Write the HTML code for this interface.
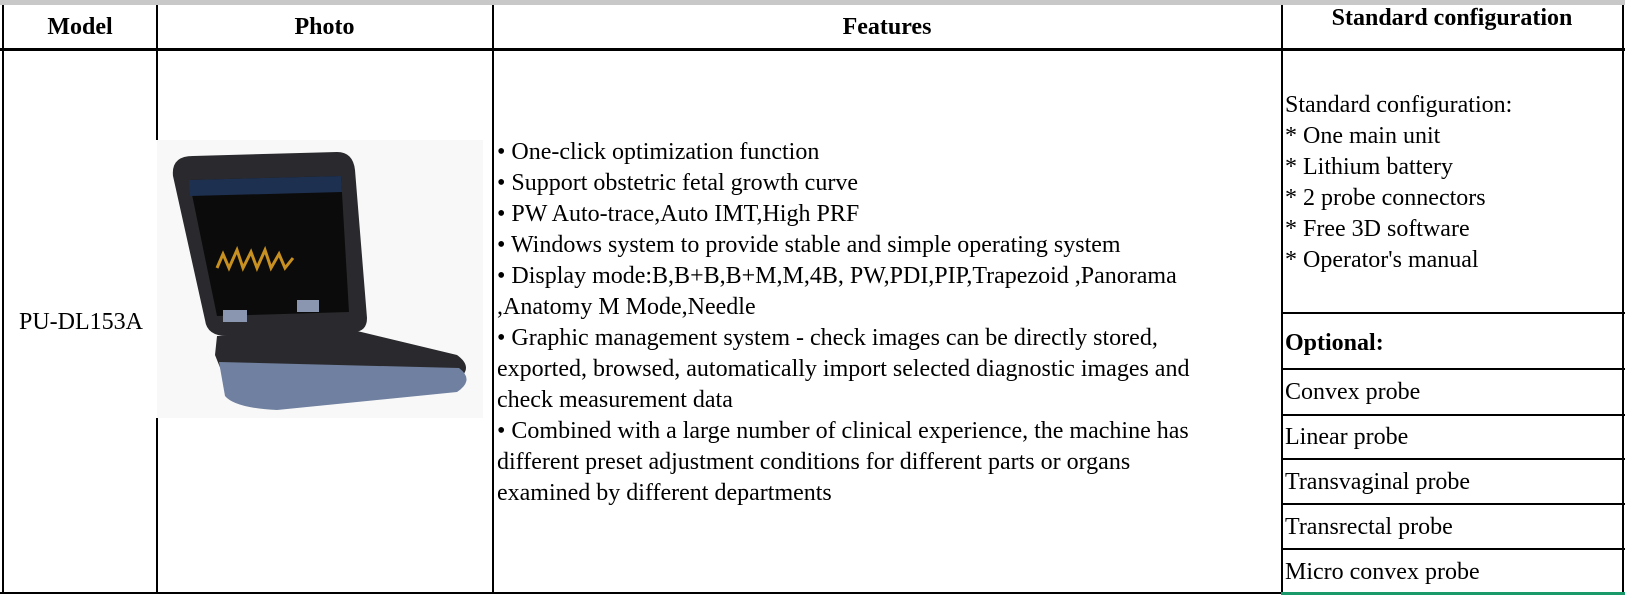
<!DOCTYPE html>
<html><head><meta charset="utf-8"><style>
body{margin:0;width:1625px;height:595px;background:#fff;position:relative;overflow:hidden;font-family:"Liberation Serif",serif;color:#000}
.a{position:absolute}
.v{position:absolute;width:2px;background:#000}
.h{position:absolute;height:2px;background:#000}
.t{position:absolute;font-size:24px;line-height:31px;white-space:nowrap}
.b{font-weight:bold}
</style></head><body>
<div class="a" style="left:0;top:0;width:1625px;height:5px;background:#c8c8c8"></div>
<div class="v" style="left:2px;top:5px;height:589px"></div>
<div class="v" style="left:156px;top:5px;height:135px"></div>
<div class="v" style="left:156px;top:418px;height:176px"></div>
<div class="v" style="left:492px;top:5px;height:589px"></div>
<div class="v" style="left:1281px;top:5px;height:589px"></div>
<div class="v" style="left:1622px;top:5px;height:589px"></div>
<div class="h" style="left:0;top:48px;width:1625px;height:3px"></div>
<div class="h" style="left:1281px;top:312px;width:344px"></div>
<div class="h" style="left:1281px;top:368px;width:344px"></div>
<div class="h" style="left:1281px;top:414px;width:344px"></div>
<div class="h" style="left:1281px;top:458px;width:344px"></div>
<div class="h" style="left:1281px;top:503px;width:344px"></div>
<div class="h" style="left:1281px;top:548px;width:344px"></div>
<div class="h" style="left:0;top:592px;width:1281px"></div>
<div class="a" style="left:1281px;top:592px;width:344px;height:3px;background:#1a9a6a"></div>
<div class="t b" style="left:3px;width:154px;text-align:center;top:12px">Model</div>
<div class="t b" style="left:157px;width:335px;text-align:center;top:12px">Photo</div>
<div class="t b" style="left:493px;width:788px;text-align:center;top:12px">Features</div>
<div class="t b" style="left:1282px;width:340px;text-align:center;top:3px">Standard configuration</div>
<div class="t" style="left:19px;top:307px">PU-DL153A</div>
<svg class="a" style="left:157px;top:140px" width="326" height="278" viewBox="0 0 326 278">
<rect width="326" height="278" fill="#f8f8f8"/>
<path d="M16 36 Q14 16 36 16 L180 12 Q196 12 198 30 L210 178 Q210 192 196 192 L70 196 Q50 196 48 180 Z" fill="#2a2a2e"/>
<path d="M32 40 L184 36 L192 172 L60 176 Z" fill="#0b0b0b"/>
<path d="M32 40 L184 36 L185 52 L33 56 Z" fill="#1e3050"/>
<path d="M60 128 l6 -14 l6 14 l8 -18 l6 18 l8 -16 l6 16 l8 -18 l6 18 l8 -14 l6 14 l8 -10" stroke="#c89020" stroke-width="3" fill="none"/>
<path d="M60 196 L196 190 L300 215 Q318 228 300 240 L120 258 Q78 258 68 240 L58 215 Z" fill="#2a2a2e"/>
<path d="M62 222 L302 228 Q318 240 300 252 L120 270 Q78 268 68 256 Z" fill="#7080a0"/>
<rect x="66" y="170" width="24" height="12" fill="#8a96b0"/><rect x="140" y="160" width="22" height="12" fill="#8a96b0"/>
</svg>
<div class="t" style="left:497px;top:137px">• One-click optimization function<br>• Support obstetric fetal growth curve<br>• PW Auto-trace,Auto IMT,High PRF<br>• Windows system to provide stable and simple operating system<br>• Display mode:B,B+B,B+M,M,4B, PW,PDI,PIP,Trapezoid ,Panorama<br>,Anatomy M Mode,Needle<br>• Graphic management system - check images can be directly stored,<br>exported, browsed, automatically import selected diagnostic images and<br>check measurement data<br>• Combined with a large number of clinical experience, the machine has<br>different preset adjustment conditions for different parts or organs<br>examined by different departments</div>
<div class="t" style="left:1285px;top:90px">Standard configuration:<br>* One main unit<br>* Lithium battery<br>* 2 probe connectors<br>* Free 3D software<br>* Operator's manual</div>
<div class="t b" style="left:1285px;top:328px">Optional:</div>
<div class="t" style="left:1285px;top:377px">Convex probe</div>
<div class="t" style="left:1285px;top:422px">Linear probe</div>
<div class="t" style="left:1285px;top:467px">Transvaginal probe</div>
<div class="t" style="left:1285px;top:512px">Transrectal probe</div>
<div class="t" style="left:1285px;top:557px">Micro convex probe</div>
</body></html>
